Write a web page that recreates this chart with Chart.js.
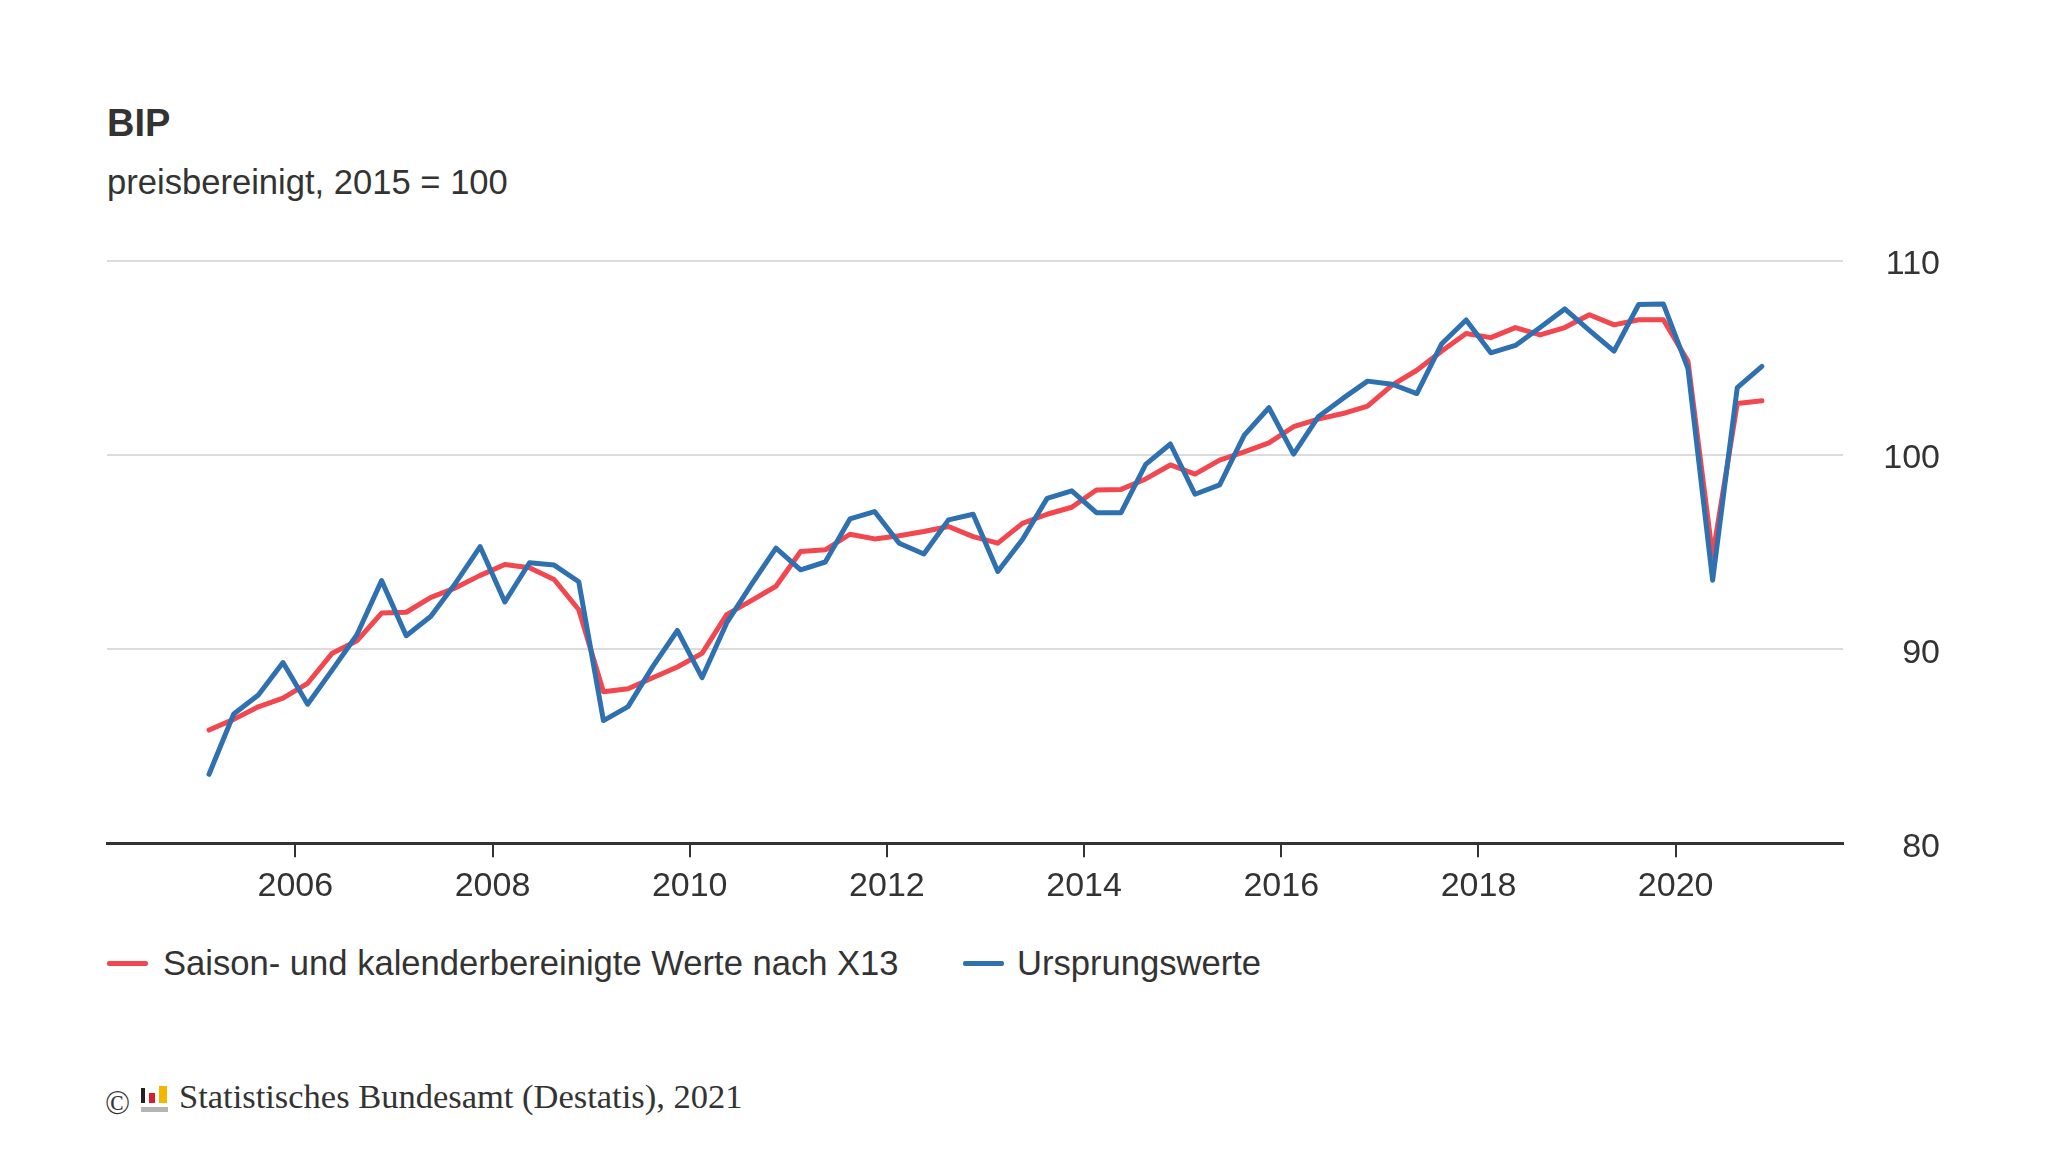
<!DOCTYPE html>
<html lang="de">
<head>
<meta charset="utf-8">
<title>BIP</title>
<script src="https://cdn.jsdelivr.net/npm/chart.js@4.4.1/dist/chart.umd.min.js"></script>
<style>
  html, body { margin: 0; padding: 0; background: #fff; }
  body { width: 2048px; height: 1152px; position: relative; overflow: hidden;
         font-family: "Liberation Sans", Arial, sans-serif; color: #333; }
  .abs { position: absolute; white-space: nowrap; line-height: 1; }
  #title { left: 107px; top: 104px; font-size: 38px; font-weight: bold; }
  #subtitle { left: 107px; top: 165px; font-size: 34.6px; }
  #chartWrap { position: absolute; left: 0; top: 0; width: 2048px; height: 920px; }
  .swatch { position: absolute; height: 5px; width: 41px; top: 961px; border-radius: 2px; }
  .legText { top: 946px; font-size: 34.6px; }
  #footer { left: 179px; top: 1079px; font-family: "Liberation Serif", "Times New Roman", serif; font-size: 34.5px; }
  #copy { left: 105px; top: 1087px; font-family: "Liberation Serif", serif; font-size: 33px; }
  .bar { position: absolute; }
</style>
</head>
<body>
<div id="title" class="abs">BIP</div>
<div id="subtitle" class="abs">preisbereinigt, 2015 = 100</div>
<div id="chartWrap"><canvas id="bipChart" width="2048" height="920"></canvas></div>

<div class="swatch" id="sw0" style="left:107px;"></div>
<div class="abs legText" id="lt0" style="left:163px;"></div>
<div class="swatch" id="sw1" style="left:963px;"></div>
<div class="abs legText" id="lt1" style="left:1017px;"></div>

<div id="copy" class="abs">©</div>
<div class="bar" style="left:141px; top:1088px; width:4px; height:15px; background:#222;"></div>
<div class="bar" style="left:149px; top:1093px; width:6px; height:10px; background:#d81e2c;"></div>
<div class="bar" style="left:159px; top:1086px; width:8px; height:17px; background:#f2b800;"></div>
<div class="bar" style="left:141px; top:1107px; width:27px; height:5px; background:#b4b4b4;"></div>
<div id="footer" class="abs">Statistisches Bundesamt (Destatis), 2021</div>

<script>
const firstYear = 2005;
const lastYear = 2020;
const seriesNames = ['Saison- und kalenderbereinigte Werte nach X13', 'Ursprungswerte'];
const seriesColors = ['#f2474f', '#2f70b1'];

// Saison- und kalenderbereinigt (X13), 2005 Q1 .. 2020 Q4
const adjusted = [
  85.83, 86.38, 87.03, 87.47,
  88.24, 89.79, 90.43, 91.86,
  91.90, 92.67, 93.16, 93.80,
  94.36, 94.19, 93.59, 92.03,
  87.80, 87.96, 88.53, 89.08,
  89.78, 91.78, 92.50, 93.24,
  95.03, 95.12, 95.92, 95.68,
  95.84, 96.06, 96.32, 95.80,
  95.46, 96.48, 96.95, 97.31,
  98.20, 98.23, 98.77, 99.49,
  99.02, 99.74, 100.17, 100.63,
  101.46, 101.85, 102.14, 102.52,
  103.60, 104.37, 105.35, 106.26,
  106.05, 106.57, 106.19, 106.57,
  107.23, 106.71, 106.97, 106.97,
  104.83, 94.80, 102.66, 102.80
];

// Ursprungswerte, 2005 Q1 .. 2020 Q4
const original = [
  83.55, 86.66, 87.64, 89.31,
  87.16, 88.93, 90.74, 93.53,
  90.69, 91.69, 93.40, 95.28,
  92.43, 94.45, 94.33, 93.47,
  86.32, 87.04, 89.10, 90.96,
  88.53, 91.35, 93.32, 95.21,
  94.09, 94.49, 96.71, 97.09,
  95.46, 94.90, 96.66, 96.95,
  94.00, 95.65, 97.77, 98.16,
  97.03, 97.03, 99.52, 100.57,
  97.98, 98.46, 101.03, 102.44,
  100.05, 101.97, 102.92, 103.81,
  103.65, 103.17, 105.72, 106.96,
  105.27, 105.65, 106.57, 107.53,
  106.43, 105.36, 107.76, 107.79,
  104.45, 93.55, 103.48, 104.57
];

const xTicks = [2006, 2008, 2010, 2012, 2014, 2016, 2018, 2020];
const yTicks = [80, 90, 100, 110];

// quarter categories, placed in the middle of each quarter
const quarters = [];
for (let y = firstYear; y <= lastYear; y++) {
  for (let q = 1; q <= 4; q++) quarters.push({ year: y, q: q });
}
const quarterPos = quarters.map(d => d.year + (d.q - 0.5) / 4);

function toPoints(values) {
  return values.map((v, i) => ({ x: quarterPos[i], y: v }));
}

// legend below the chart
document.getElementById('sw0').style.background = seriesColors[0];
document.getElementById('sw1').style.background = seriesColors[1];
document.getElementById('lt0').textContent = seriesNames[0];
document.getElementById('lt1').textContent = seriesNames[1];

Chart.defaults.font.family = '"Liberation Sans", Arial, sans-serif';
Chart.defaults.color = '#333';

const ctx = document.getElementById('bipChart').getContext('2d');
const myChart = new Chart(ctx, {
  type: 'line',
  data: {
    datasets: [
      {
        label: seriesNames[0],
        data: toPoints(adjusted),
        borderColor: seriesColors[0],
        backgroundColor: seriesColors[0],
        borderWidth: 5,
        borderCapStyle: 'round',
        borderJoinStyle: 'round',
        pointRadius: 0,
        tension: 0,
        order: 2
      },
      {
        label: seriesNames[1],
        data: toPoints(original),
        borderColor: seriesColors[1],
        backgroundColor: seriesColors[1],
        borderWidth: 5,
        borderCapStyle: 'round',
        borderJoinStyle: 'round',
        pointRadius: 0,
        tension: 0,
        order: 1
      }
    ]
  },
  options: {
    responsive: false,
    animation: false,
    devicePixelRatio: 1,
    layout: { padding: { left: 107, right: 108, top: 261, bottom: 4 } },
    plugins: {
      legend: { display: false },
      tooltip: { enabled: false }
    },
    scales: {
      x: {
        type: 'linear',
        min: 2004.09,
        max: 2021.7,
        afterBuildTicks: axis => { axis.ticks = xTicks.map(v => ({ value: v })); },
        ticks: {
          callback: v => String(v),
          font: { size: 34 },
          color: '#333',
          padding: 9,
          maxRotation: 0,
          autoSkip: false
        },
        grid: {
          drawOnChartArea: false,
          drawTicks: true,
          tickLength: 14,
          color: '#333',
          lineWidth: 2
        },
        border: { display: true, color: '#333', width: 3 }
      },
      y: {
        position: 'right',
        min: 80,
        max: 110,
        afterBuildTicks: axis => { axis.ticks = yTicks.map(v => ({ value: v })); },
        ticks: {
          callback: v => String(v),
          font: { size: 34 },
          color: '#333',
          padding: 20,
          crossAlign: 'far',
          labelOffset: 4
        },
        grid: {
          drawTicks: false,
          color: '#dcdcdc',
          lineWidth: 2
        },
        border: { display: false }
      }
    }
  }
});
</script>
</body>
</html>
